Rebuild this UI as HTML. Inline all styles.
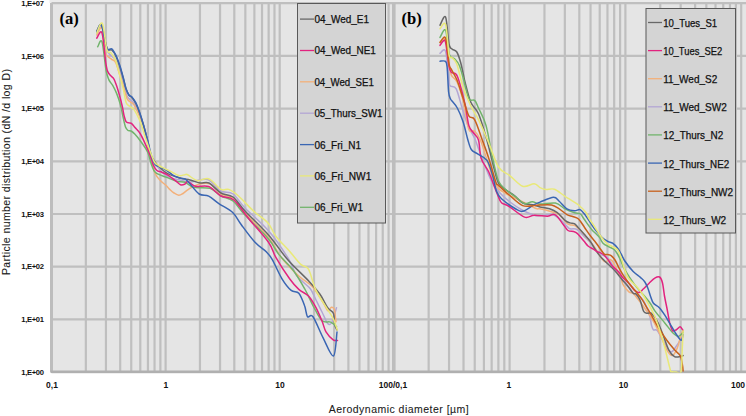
<!DOCTYPE html>
<html><head><meta charset="utf-8"><style>
html,body{margin:0;padding:0;background:#fff;}
body{width:746px;height:416px;overflow:hidden;}
svg{display:block;}
text{font-family:"Liberation Sans",sans-serif;}
.lg{font-size:10.5px;fill:#111;stroke:#111;stroke-width:0.25px;}
.yl{font-size:7.6px;fill:#111;font-weight:bold;}
.xl{font-size:8.5px;fill:#111;font-weight:bold;}
.tl{font-family:"Liberation Serif",serif;font-weight:bold;font-size:16.6px;fill:#000;}
.at{font-size:10.5px;fill:#1a1a1a;stroke:#1a1a1a;stroke-width:0.08px;}
</style></head><body>
<svg width="746" height="416" viewBox="0 0 746 416">
<rect x="49.5" y="0" width="746" height="3" fill="#ebebeb"/>
<rect x="51.5" y="2.9" width="699.5" height="368.90000000000003" fill="#e5e5e5"/>
<path d="M51.50 2.9V371.8M85.85 2.9V371.8M105.94 2.9V371.8M120.20 2.9V371.8M131.25 2.9V371.8M140.29 2.9V371.8M147.93 2.9V371.8M154.54 2.9V371.8M160.38 2.9V371.8M165.60 2.9V371.8M199.95 2.9V371.8M220.04 2.9V371.8M234.30 2.9V371.8M245.35 2.9V371.8M254.39 2.9V371.8M262.03 2.9V371.8M268.64 2.9V371.8M274.48 2.9V371.8M279.70 2.9V371.8M314.05 2.9V371.8M334.14 2.9V371.8M348.40 2.9V371.8M359.45 2.9V371.8M368.49 2.9V371.8M376.13 2.9V371.8M382.74 2.9V371.8M388.58 2.9V371.8M393.80 2.9V371.8M428.66 2.9V371.8M449.05 2.9V371.8M463.52 2.9V371.8M474.74 2.9V371.8M483.91 2.9V371.8M491.66 2.9V371.8M498.38 2.9V371.8M504.30 2.9V371.8M509.60 2.9V371.8M544.46 2.9V371.8M564.85 2.9V371.8M579.32 2.9V371.8M590.54 2.9V371.8M599.71 2.9V371.8M607.46 2.9V371.8M614.18 2.9V371.8M620.10 2.9V371.8M625.40 2.9V371.8M660.26 2.9V371.8M680.65 2.9V371.8M695.12 2.9V371.8M706.34 2.9V371.8M715.51 2.9V371.8M723.26 2.9V371.8M729.98 2.9V371.8M735.90 2.9V371.8M741.20 2.9V371.8M51.5 3.20H751M51.5 55.90H751M51.5 108.60H751M51.5 161.30H751M51.5 214.00H751M51.5 266.70H751M51.5 319.40H751M51.5 372.10H751" stroke="#bfbfbf" stroke-width="2.2" fill="none"/>
<path d="M393.8 2.9V371.8" stroke="#bdbdbd" stroke-width="3.6" fill="none"/>
<path d="M51.5 2.9V371.8" stroke="#bdbdbd" stroke-width="3" fill="none"/>
<path d="M50.5 371.8H751" stroke="#b0b0b0" stroke-width="2.6" fill="none"/>
<clipPath id="pc"><rect x="51.5" y="0" width="746" height="372.5"/></clipPath><g clip-path="url(#pc)">
<path d="M96.8 33.0 C97.7 31.8 100.3 23.2 102.0 26.0 C103.7 28.8 105.3 45.0 106.9 50.0 C108.5 55.0 110.2 54.3 111.7 56.0 C113.2 57.7 114.3 57.7 115.6 60.0 C116.9 62.3 118.0 65.7 119.4 70.0 C120.8 74.3 122.7 81.7 124.0 86.0 C125.3 90.3 126.1 93.8 127.1 96.0 C128.1 98.2 128.9 98.3 130.0 99.5 C131.1 100.7 132.4 100.8 133.8 103.0 C135.2 105.2 137.1 109.3 138.7 113.0 C140.3 116.7 142.0 120.5 143.5 125.0 C145.0 129.5 146.2 134.7 147.6 140.0 C149.0 145.3 148.9 151.2 151.8 157.0 C154.7 162.8 160.3 171.2 165.0 175.0 C169.7 178.8 175.8 178.8 180.0 180.0 C184.2 181.2 186.7 182.0 190.0 182.0 C193.3 182.0 196.8 180.3 200.0 180.0 C203.2 179.7 205.5 178.2 209.0 180.0 C212.5 181.8 217.0 188.7 221.0 191.0 C225.0 193.3 229.0 191.2 233.0 194.0 C237.0 196.8 239.1 201.9 245.0 208.0 C250.9 214.1 261.3 222.5 268.5 230.8 C275.7 239.1 283.4 250.7 288.0 258.0 C292.6 265.3 293.5 270.6 296.0 274.6 C298.5 278.6 300.6 279.6 303.0 282.0 C305.4 284.4 308.3 286.0 310.5 289.0 C312.7 292.0 314.1 296.2 316.0 300.0 C317.9 303.8 320.0 308.1 322.0 312.0 C324.0 315.9 326.1 321.9 327.8 323.6 C329.5 325.3 330.6 324.6 332.0 322.0 C333.4 319.4 335.8 310.1 336.5 307.7" stroke="#b3a6d4" stroke-width="1.5" fill="none" stroke-linejoin="round" stroke-linecap="round"/>
<path d="M96.8 35.0 C97.7 33.8 100.6 25.2 102.0 28.0 C103.4 30.8 104.0 47.0 105.0 51.7 C106.0 56.5 106.8 55.2 107.9 56.5 C109.0 57.8 110.4 58.4 111.7 59.4 C113.0 60.4 114.3 59.9 115.6 62.3 C116.9 64.7 118.0 69.3 119.4 73.8 C120.8 78.3 122.9 85.0 124.2 89.2 C125.5 93.4 126.1 96.7 127.1 98.8 C128.1 100.9 128.9 100.7 130.0 101.7 C131.1 102.7 132.4 102.5 133.8 104.6 C135.2 106.7 137.1 110.8 138.7 114.2 C140.3 117.6 142.1 120.7 143.5 125.0 C144.9 129.3 145.9 135.0 147.0 140.0 C148.1 145.0 149.1 150.8 150.0 155.0 C150.9 159.2 151.8 162.3 152.7 165.5 C153.6 168.7 153.9 171.4 155.2 173.9 C156.5 176.4 158.6 178.8 160.3 180.6 C162.0 182.4 163.6 183.2 165.3 184.8 C167.0 186.4 169.0 188.6 170.4 190.0 C171.8 191.4 172.6 192.1 174.0 193.0 C175.4 193.9 177.3 195.2 178.8 195.3 C180.3 195.4 181.4 194.5 183.0 193.5 C184.6 192.5 186.0 190.8 188.5 189.3 C191.0 187.8 194.4 185.4 198.0 184.5 C201.6 183.6 206.2 182.4 210.0 184.0 C213.8 185.6 217.2 191.7 221.0 194.0 C224.8 196.3 228.9 195.0 232.7 198.0 C236.5 201.0 238.0 205.4 244.0 212.0 C250.0 218.6 262.2 229.9 268.5 237.5 C274.8 245.1 276.4 251.3 281.5 257.7 C286.6 264.1 293.7 271.2 298.8 276.0 C303.9 280.8 308.1 281.9 312.3 286.5 C316.5 291.1 321.2 299.8 323.8 303.8 C326.4 307.8 326.4 310.0 327.7 310.6 C329.0 311.2 330.4 307.5 331.5 307.3 C332.6 307.1 333.8 307.9 334.4 309.6 C335.0 311.3 335.1 315.3 335.4 317.3 C335.7 319.3 335.9 321.0 336.0 321.7" stroke="#f3b07a" stroke-width="1.5" fill="none" stroke-linejoin="round" stroke-linecap="round"/>
<path d="M96.8 31.0 C97.6 30.0 99.8 22.2 101.5 25.0 C103.2 27.8 105.2 43.8 106.9 48.0 C108.6 52.2 110.2 48.8 111.7 50.0 C113.2 51.2 114.3 52.9 115.6 55.5 C116.9 58.1 118.1 61.7 119.4 65.5 C120.7 69.3 122.2 74.5 123.3 78.5 C124.4 82.5 125.2 86.5 126.2 89.3 C127.2 92.1 128.1 93.9 129.0 95.3 C129.9 96.7 130.8 96.1 131.9 97.5 C133.0 98.9 134.5 100.9 135.8 103.5 C137.1 106.1 138.3 109.3 139.6 113.0 C140.9 116.7 142.2 120.9 143.5 125.5 C144.8 130.1 146.2 135.2 147.6 140.5 C149.0 145.8 148.9 151.8 151.8 157.0 C154.7 162.2 160.3 168.5 165.0 172.0 C169.7 175.5 175.8 176.7 180.0 178.0 C184.2 179.3 186.7 179.2 190.0 180.0 C193.3 180.8 196.8 182.5 200.0 183.0 C203.2 183.5 205.5 181.3 209.0 183.0 C212.5 184.7 217.0 190.7 221.0 193.0 C225.0 195.3 229.0 194.0 233.0 197.0 C237.0 200.0 239.1 204.7 245.0 211.0 C250.9 217.3 261.3 226.8 268.5 235.0 C275.7 243.2 281.3 252.4 288.0 260.0 C294.7 267.6 303.2 275.1 308.5 280.8 C313.8 286.5 316.8 289.7 320.0 294.2 C323.2 298.7 325.4 304.5 327.7 307.7 C329.9 310.9 332.4 310.7 333.5 313.5 C334.6 316.3 334.0 321.9 334.6 324.6 C335.2 327.4 336.6 329.1 337.0 330.0" stroke="#686868" stroke-width="1.5" fill="none" stroke-linejoin="round" stroke-linecap="round"/>
<path d="M97.7 46.7 C98.4 45.9 100.6 37.8 102.0 41.7 C103.4 45.6 104.9 63.7 106.0 70.0 C107.1 76.3 107.7 77.0 108.8 79.6 C109.9 82.2 111.4 83.2 112.7 85.4 C114.0 87.7 115.2 89.9 116.5 93.1 C117.8 96.3 119.3 100.4 120.4 104.6 C121.5 108.8 122.5 114.4 123.3 118.1 C124.1 121.8 124.7 124.9 125.5 127.0 C126.3 129.1 127.1 129.8 128.0 130.5 C128.9 131.2 129.8 130.4 131.0 131.0 C132.2 131.6 133.2 132.4 135.0 134.3 C136.8 136.2 139.6 139.8 141.7 142.7 C143.8 145.6 145.9 148.2 147.6 152.0 C149.3 155.8 150.5 162.1 151.8 165.5 C153.1 168.9 153.5 170.5 155.2 172.2 C156.9 173.9 159.7 174.6 161.9 175.6 C164.2 176.6 166.2 177.1 168.7 178.1 C171.2 179.1 174.4 180.7 177.1 181.4 C179.8 182.1 182.3 181.3 185.0 182.3 C187.7 183.3 189.3 186.3 193.5 187.3 C197.7 188.3 205.4 186.9 210.0 188.3 C214.6 189.8 217.2 193.9 221.0 196.0 C224.8 198.1 229.0 197.8 233.0 201.0 C237.0 204.2 239.1 208.7 245.0 215.0 C250.9 221.3 262.9 232.4 268.5 239.0 C274.1 245.6 274.7 249.2 278.8 254.4 C282.9 259.6 288.9 264.5 293.2 270.3 C297.5 276.1 301.4 283.0 304.8 289.0 C308.2 295.0 310.5 301.0 313.4 306.3 C316.3 311.6 319.1 318.1 322.0 320.7 C324.9 323.3 328.3 321.1 330.7 322.1 C333.1 323.1 335.5 325.8 336.5 326.5" stroke="#72b46c" stroke-width="1.5" fill="none" stroke-linejoin="round" stroke-linecap="round"/>
<path d="M96.8 38.1 C97.7 37.2 100.5 28.6 102.0 33.0 C103.5 37.4 105.0 57.7 106.0 64.2 C107.0 70.7 107.1 70.0 107.9 71.9 C108.7 73.8 109.8 74.7 110.8 75.8 C111.8 76.9 112.8 77.1 113.7 78.7 C114.7 80.3 115.5 82.7 116.5 85.4 C117.5 88.1 118.4 91.5 119.4 95.0 C120.4 98.5 121.5 103.0 122.3 106.5 C123.1 110.0 123.5 113.6 124.2 116.2 C124.9 118.8 125.4 120.8 126.2 121.9 C127.0 123.0 128.1 122.6 129.0 122.9 C129.9 123.2 130.9 123.0 131.9 123.8 C132.9 124.6 133.6 126.0 135.0 127.6 C136.4 129.2 138.4 130.8 140.1 133.5 C141.8 136.2 143.4 139.9 145.1 143.6 C146.8 147.2 148.8 151.8 150.2 155.4 C151.6 159.1 152.4 163.0 153.5 165.5 C154.6 168.0 155.5 169.4 156.9 170.5 C158.3 171.6 159.9 171.3 161.9 172.2 C163.9 173.0 166.4 174.2 168.7 175.6 C170.9 177.0 173.4 179.1 175.4 180.6 C177.4 182.1 178.9 184.2 180.5 184.8 C182.1 185.4 183.8 184.6 185.0 184.0 C186.2 183.4 186.0 181.1 187.7 181.5 C189.4 181.9 191.9 185.5 195.4 186.3 C198.9 187.1 204.4 184.9 208.7 186.5 C213.0 188.1 216.8 193.8 221.0 196.0 C225.2 198.2 229.1 196.1 233.8 200.0 C238.5 203.9 243.4 212.1 249.2 219.2 C255.0 226.2 264.0 235.9 268.5 242.3 C273.0 248.7 272.5 251.6 276.0 257.7 C279.5 263.8 285.8 273.5 289.6 278.8 C293.4 284.1 295.7 286.5 298.8 289.4 C301.9 292.3 305.6 292.9 308.5 296.0 C311.4 299.1 313.8 303.5 316.0 307.7 C318.2 311.9 320.3 317.0 322.0 321.0 C323.7 325.0 324.1 328.7 326.0 331.8 C327.9 334.9 331.3 338.4 333.2 339.8 C335.1 341.2 336.8 340.4 337.5 340.5" stroke="#e2237f" stroke-width="1.5" fill="none" stroke-linejoin="round" stroke-linecap="round"/>
<path d="M96.8 32.0 C97.6 30.8 99.8 22.4 101.5 25.0 C103.2 27.6 105.2 43.9 106.9 47.9 C108.6 51.9 110.2 47.7 111.7 48.8 C113.2 49.9 114.3 52.0 115.6 54.6 C116.9 57.2 118.1 60.4 119.4 64.2 C120.7 68.0 122.2 73.5 123.3 77.7 C124.4 81.9 125.2 86.3 126.2 89.2 C127.2 92.1 128.1 93.7 129.0 95.0 C129.9 96.3 130.8 95.6 131.9 96.9 C133.0 98.2 134.5 100.1 135.8 102.7 C137.1 105.3 138.3 108.6 139.6 112.3 C140.9 116.0 142.2 120.3 143.5 125.0 C144.8 129.7 146.2 134.9 147.6 140.2 C149.0 145.5 150.5 152.9 151.8 157.0 C153.1 161.1 153.8 162.9 155.2 164.6 C156.6 166.3 158.3 166.1 160.3 167.1 C162.3 168.1 164.8 169.1 167.0 170.5 C169.2 171.9 171.4 174.3 173.7 175.6 C175.9 176.9 178.6 177.5 180.5 178.1 C182.4 178.7 183.5 178.0 185.0 178.9 C186.5 179.8 187.2 181.0 189.6 183.5 C192.0 186.0 196.0 191.9 199.2 194.0 C202.4 196.1 205.4 194.6 208.7 196.2 C212.0 197.8 215.2 201.1 219.2 203.8 C223.2 206.5 229.0 209.0 232.7 212.5 C236.4 216.0 237.8 220.0 241.5 225.0 C245.2 230.0 250.8 237.8 255.0 242.3 C259.2 246.8 263.6 249.1 266.5 252.0 C269.4 254.9 269.7 255.1 272.3 259.6 C274.9 264.1 278.9 273.7 282.0 278.8 C285.1 283.9 288.4 288.0 291.2 290.4 C294.0 292.8 296.6 290.7 298.8 293.3 C301.0 295.9 303.2 301.9 304.6 305.8 C306.1 309.7 306.1 314.9 307.5 316.7 C308.9 318.5 310.4 313.2 313.0 316.7 C315.6 320.2 319.6 331.1 323.0 337.6 C326.4 344.2 331.1 356.9 333.4 356.0 C335.7 355.1 336.4 336.0 337.0 332.0" stroke="#3a66b3" stroke-width="1.5" fill="none" stroke-linejoin="round" stroke-linecap="round"/>
<path d="M96.8 33.0 C97.7 31.4 100.6 20.6 102.3 23.4 C104.0 26.2 105.5 44.9 106.9 49.8 C108.3 54.7 109.3 50.9 110.8 52.7 C112.2 54.5 114.2 56.9 115.6 60.4 C117.0 63.9 118.1 69.0 119.4 73.8 C120.7 78.6 122.2 84.4 123.3 89.2 C124.4 94.0 125.1 99.8 126.2 102.7 C127.3 105.6 128.7 105.4 130.0 106.5 C131.3 107.6 132.5 107.8 133.8 109.4 C135.1 111.0 136.4 113.6 137.7 116.2 C139.0 118.8 140.3 121.6 141.5 125.0 C142.7 128.4 143.5 132.0 145.1 136.8 C146.7 141.6 149.4 149.5 151.0 153.7 C152.6 157.9 153.1 160.1 154.4 162.1 C155.7 164.1 156.8 164.4 158.6 165.5 C160.4 166.6 163.1 167.7 165.3 168.8 C167.5 169.9 169.8 171.1 172.0 172.2 C174.2 173.3 176.6 175.2 178.8 175.6 C181.0 176.0 183.5 174.8 185.0 174.7 C186.5 174.6 185.6 173.8 187.7 174.8 C189.8 175.8 193.8 179.9 197.3 180.6 C200.8 181.3 204.8 177.3 208.7 178.8 C212.6 180.3 217.7 187.6 221.0 189.4 C224.3 191.2 225.9 188.3 228.8 189.4 C231.7 190.5 234.4 192.4 238.5 196.0 C242.6 199.6 248.6 206.5 253.5 211.0 C258.4 215.5 264.2 218.8 268.0 223.0 C271.8 227.2 272.4 231.8 276.0 236.5 C279.6 241.2 285.3 246.3 289.4 251.0 C293.5 255.7 297.6 261.4 300.8 264.4 C304.0 267.4 306.0 264.9 308.5 269.2 C311.0 273.5 312.8 283.7 316.0 290.4 C319.2 297.1 324.8 304.8 327.7 309.6 C330.6 314.4 331.9 315.8 333.5 319.2 C335.1 322.6 336.7 328.2 337.3 330.0" stroke="#e9e978" stroke-width="1.5" fill="none" stroke-linejoin="round" stroke-linecap="round"/>
<path d="M440.0 53.3 C440.9 53.0 444.1 46.9 445.6 51.5 C447.1 56.1 448.2 75.2 449.0 81.0 C449.8 86.8 449.2 84.7 450.4 86.0 C451.6 87.3 454.3 85.3 456.2 88.9 C458.1 92.5 460.1 101.6 462.0 107.6 C463.9 113.6 465.6 119.8 467.7 124.9 C469.8 130.0 472.6 133.8 474.5 138.0 C476.4 142.2 477.2 145.3 479.0 150.0 C480.8 154.7 482.8 160.7 485.0 166.0 C487.2 171.3 489.5 177.5 492.0 182.0 C494.5 186.5 497.0 189.7 500.0 193.0 C503.0 196.3 506.3 199.2 510.0 202.0 C513.7 204.8 518.0 207.8 522.0 210.0 C526.0 212.2 531.2 214.3 534.2 215.2 C537.2 216.1 537.1 215.7 540.0 215.6 C542.9 215.5 548.3 214.1 551.5 214.6 C554.7 215.1 556.6 216.6 559.2 218.5 C561.8 220.4 565.1 224.5 566.9 226.2 C568.7 227.9 568.5 228.2 570.0 228.7 C571.5 229.2 574.2 228.5 575.8 229.0 C577.4 229.5 578.0 230.2 579.4 231.5 C580.8 232.8 582.7 234.9 584.4 236.6 C586.1 238.3 587.1 238.8 589.5 241.6 C591.9 244.4 595.9 250.6 598.9 253.3 C601.9 256.0 604.9 255.2 607.5 257.6 C610.1 260.1 612.0 264.4 614.4 268.0 C616.8 271.6 619.2 275.6 621.6 278.9 C624.0 282.1 627.0 285.1 628.9 287.5 C630.8 289.9 631.8 292.1 633.2 293.3 C634.6 294.6 635.8 293.8 637.5 295.0 C639.2 296.2 641.3 297.1 643.3 300.5 C645.3 303.9 648.1 311.1 649.5 315.2 C650.9 319.2 650.8 322.4 651.4 324.8 C652.0 327.2 652.3 328.7 653.3 329.7 C654.3 330.7 655.6 328.9 657.2 330.6 C658.8 332.4 660.7 336.7 662.9 340.2 C665.1 343.7 668.4 350.8 670.6 351.8 C672.9 352.8 674.6 348.2 676.4 346.0 C678.2 343.8 680.4 339.6 681.2 338.3" stroke="#b3a6d4" stroke-width="1.5" fill="none" stroke-linejoin="round" stroke-linecap="round"/>
<path d="M440.0 42.0 C440.9 41.7 444.1 36.2 445.6 40.0 C447.1 43.8 448.0 59.1 449.0 65.0 C450.0 70.9 450.2 72.6 451.5 75.4 C452.8 78.2 455.1 77.9 457.0 82.0 C458.9 86.1 461.0 92.1 463.0 100.0 C465.0 107.9 466.9 124.0 468.8 129.2 C470.7 134.4 472.7 129.2 474.6 131.0 C476.5 132.8 478.3 135.2 480.4 140.0 C482.5 144.8 484.9 153.7 487.0 160.0 C489.1 166.3 491.2 173.3 493.0 178.0 C494.8 182.7 496.0 185.5 498.0 188.0 C500.0 190.5 502.2 191.3 505.0 193.0 C507.8 194.7 511.7 196.3 515.0 198.0 C518.3 199.7 521.5 201.2 525.0 203.0 C528.5 204.8 533.5 207.5 536.0 208.5 C538.5 209.5 537.4 208.3 540.0 208.8 C542.6 209.3 548.3 210.7 551.5 211.7 C554.7 212.7 556.6 212.7 559.2 214.6 C561.8 216.5 565.1 221.6 566.9 223.3 C568.7 225.0 568.8 224.3 570.0 224.7 C571.2 225.0 573.0 224.9 574.3 225.4 C575.6 225.9 576.6 226.8 577.9 227.9 C579.2 229.1 580.8 230.7 582.3 232.3 C583.8 233.9 585.2 235.6 586.6 237.3 C588.0 239.0 589.7 241.0 590.9 242.4 C592.1 243.8 592.8 244.6 593.8 246.0 C594.8 247.4 595.7 248.9 597.0 251.0 C598.3 253.1 600.4 257.0 601.8 258.8 C603.2 260.6 604.4 261.6 605.4 261.9 C606.4 262.2 607.0 261.0 607.8 260.6 C608.6 260.2 609.4 259.3 610.2 259.4 C611.0 259.5 611.8 260.2 612.6 261.3 C613.4 262.4 614.0 264.0 615.0 266.0 C616.0 268.0 617.7 271.3 618.7 273.3 C619.7 275.3 620.4 276.2 621.1 278.1 C621.8 280.0 621.8 282.3 623.1 284.6 C624.4 286.9 627.2 290.4 628.9 291.8 C630.6 293.2 631.7 292.1 633.2 293.3 C634.7 294.5 635.8 296.3 637.9 299.0 C640.0 301.7 643.0 305.8 645.6 309.5 C648.2 313.2 650.7 316.5 653.3 321.0 C655.9 325.5 658.8 331.6 661.0 336.4 C663.2 341.2 664.9 346.6 666.8 349.8 C668.7 353.0 670.8 355.9 672.5 355.6 C674.2 355.3 675.8 351.4 677.3 347.9 C678.8 344.4 680.2 337.4 681.2 334.5 C682.2 331.6 682.8 331.2 683.1 330.6" stroke="#f3b07a" stroke-width="1.5" fill="none" stroke-linejoin="round" stroke-linecap="round"/>
<path d="M440.0 25.2 C440.9 23.9 444.1 14.1 445.6 17.2 C447.1 20.3 447.9 38.7 449.0 44.0 C450.1 49.3 450.7 47.7 452.0 49.0 C453.3 50.3 455.4 49.8 456.8 52.0 C458.2 54.2 459.4 58.2 460.5 62.0 C461.6 65.8 462.8 71.7 463.5 75.0 C464.2 78.3 463.8 77.5 465.0 82.0 C466.2 86.5 468.6 97.0 470.8 102.3 C473.1 107.6 476.0 108.0 478.5 113.8 C481.0 119.6 484.1 130.6 486.0 137.0 C487.9 143.4 488.5 146.2 490.0 152.0 C491.5 157.8 493.6 166.8 495.0 172.0 C496.4 177.2 496.7 180.0 498.5 183.0 C500.3 186.0 503.2 187.8 506.0 190.0 C508.8 192.2 512.2 193.8 515.0 196.0 C517.8 198.2 519.5 201.5 522.7 203.0 C525.9 204.5 531.1 204.3 534.0 205.0 C536.9 205.7 537.4 206.3 540.0 206.9 C542.6 207.5 546.7 207.8 549.6 208.8 C552.5 209.8 554.7 210.8 557.3 212.7 C559.9 214.6 562.9 218.7 565.0 220.4 C567.1 222.1 568.5 222.4 570.0 222.9 C571.5 223.4 573.0 222.9 574.3 223.6 C575.6 224.3 576.3 225.5 577.9 227.2 C579.5 228.9 582.0 231.7 584.0 234.0 C586.0 236.3 587.3 237.3 590.0 241.0 C592.7 244.7 595.9 251.1 600.0 256.0 C604.1 260.9 610.8 266.4 614.4 270.2 C618.0 274.0 619.2 276.0 621.6 278.9 C624.0 281.8 627.0 285.1 628.9 287.5 C630.8 289.9 632.0 292.2 633.2 293.3 C634.4 294.4 634.9 292.9 636.0 294.0 C637.1 295.1 638.7 297.1 640.0 300.0 C641.3 302.9 642.5 309.2 643.7 311.4 C645.0 313.6 646.2 313.0 647.5 313.3 C648.8 313.6 649.8 312.0 651.4 313.3 C653.0 314.6 655.3 317.5 657.2 321.0 C659.1 324.5 661.0 329.7 662.9 334.5 C664.8 339.3 666.8 346.1 668.7 349.8 C670.6 353.5 672.6 355.5 674.5 356.6 C676.4 357.7 678.8 356.8 680.2 356.6 C681.6 356.4 682.6 355.8 683.1 355.6" stroke="#686868" stroke-width="1.5" fill="none" stroke-linejoin="round" stroke-linecap="round"/>
<path d="M440.0 37.4 C440.9 36.2 444.1 27.4 445.6 30.2 C447.1 33.0 447.5 49.2 449.0 54.0 C450.5 58.8 453.1 57.2 454.8 59.0 C456.5 60.8 457.6 61.8 459.0 64.8 C460.4 67.8 461.4 71.7 463.0 77.3 C464.6 82.9 466.9 94.7 468.8 98.5 C470.7 102.3 473.0 98.8 474.6 100.4 C476.2 102.0 476.6 103.8 478.5 108.0 C480.4 112.2 483.6 117.0 486.0 125.4 C488.4 133.8 490.6 149.2 492.7 158.5 C494.8 167.8 496.4 175.9 498.5 181.0 C500.6 186.1 502.5 186.5 505.4 189.2 C508.3 191.9 512.6 194.6 515.8 197.0 C519.0 199.4 521.9 202.9 524.6 203.7 C527.4 204.5 529.7 201.6 532.3 201.7 C534.9 201.8 536.1 203.8 540.0 204.0 C543.9 204.2 551.2 202.3 555.4 203.1 C559.6 203.9 561.8 207.2 565.0 208.8 C568.2 210.4 572.0 211.8 574.6 212.7 C577.2 213.6 578.8 212.9 580.4 214.0 C582.0 215.1 582.1 216.4 584.0 219.0 C585.9 221.6 589.1 226.5 591.6 229.4 C594.1 232.3 596.9 234.3 598.8 236.6 C600.7 238.9 601.3 241.5 603.0 243.2 C604.7 244.9 607.2 245.8 609.0 246.8 C610.8 247.8 612.4 248.0 613.8 249.2 C615.2 250.4 616.3 252.0 617.5 254.0 C618.7 256.0 619.9 258.7 621.1 261.3 C622.3 263.9 622.5 265.8 624.7 269.7 C627.0 273.6 631.5 280.4 634.6 284.6 C637.7 288.8 640.9 291.9 643.5 295.0 C646.1 298.1 648.0 300.3 650.0 303.0 C652.0 305.7 652.7 308.1 655.2 311.4 C657.7 314.7 661.9 319.4 664.8 322.9 C667.7 326.4 670.2 330.2 672.5 332.5 C674.8 334.8 676.5 336.4 678.3 336.4 C680.1 336.4 682.3 333.1 683.1 332.5" stroke="#72b46c" stroke-width="1.5" fill="none" stroke-linejoin="round" stroke-linecap="round"/>
<path d="M440.0 45.4 C440.5 44.7 442.3 41.5 443.2 41.0 C444.1 40.5 444.6 38.3 445.6 42.5 C446.6 46.7 448.0 61.0 449.0 66.0 C450.0 71.0 450.1 70.8 451.5 72.5 C452.9 74.2 455.1 71.0 457.3 76.3 C459.6 81.6 463.1 96.0 465.0 104.2 C466.9 112.4 467.4 120.6 468.8 125.4 C470.2 130.2 472.0 130.6 473.6 133.0 C475.2 135.4 477.2 135.8 478.5 140.0 C479.8 144.2 479.5 153.2 481.2 158.5 C482.9 163.8 486.6 167.2 488.8 172.0 C491.0 176.8 493.0 183.1 494.6 187.3 C496.2 191.5 497.4 194.4 498.5 197.0 C499.6 199.6 499.7 201.1 501.5 202.7 C503.3 204.3 505.3 204.1 509.2 206.5 C513.0 208.9 520.4 215.7 524.6 217.1 C528.8 218.5 530.4 215.3 534.2 215.2 C538.1 215.0 544.5 216.4 547.7 216.2 C550.9 216.0 551.9 214.1 553.5 214.2 C555.1 214.2 555.7 214.8 557.3 216.5 C558.9 218.2 561.3 221.9 563.1 224.2 C564.9 226.5 566.2 229.3 568.0 230.5 C569.8 231.7 572.1 231.0 573.6 231.5 C575.1 232.0 576.0 232.3 577.2 233.3 C578.4 234.3 579.6 235.9 580.8 237.3 C582.0 238.7 583.2 240.2 584.4 241.6 C585.6 243.0 586.5 244.7 588.0 246.0 C589.5 247.3 591.9 248.3 593.4 249.2 C594.9 250.1 595.8 251.0 597.0 251.6 C598.2 252.2 599.4 252.2 600.6 252.8 C601.8 253.4 603.0 254.1 604.2 255.2 C605.4 256.3 606.6 257.8 607.8 259.4 C609.0 261.0 610.2 263.4 611.4 264.9 C612.6 266.4 613.8 267.3 615.0 268.5 C616.2 269.7 617.5 270.7 618.7 272.1 C619.9 273.5 620.6 275.0 622.3 276.9 C624.0 278.8 626.8 280.9 628.9 283.2 C631.0 285.4 632.9 288.8 634.6 290.4 C636.3 292.0 637.5 292.8 639.0 292.6 C640.5 292.4 641.6 290.6 643.3 289.0 C645.0 287.4 647.2 285.0 649.1 283.2 C651.0 281.4 653.1 279.1 654.8 278.1 C656.5 277.1 658.2 276.2 659.5 277.0 C660.8 277.8 661.7 279.8 662.5 283.0 C663.3 286.2 663.8 291.9 664.5 296.0 C665.2 300.1 665.9 303.0 666.8 307.5 C667.7 312.0 668.8 319.0 669.7 322.9 C670.7 326.8 671.4 329.5 672.5 330.6 C673.6 331.7 675.1 330.3 676.4 329.7 C677.7 329.1 679.1 326.6 680.2 326.8 C681.3 327.0 682.6 330.0 683.1 330.6" stroke="#e2237f" stroke-width="1.5" fill="none" stroke-linejoin="round" stroke-linecap="round"/>
<path d="M440.0 61.2 C440.9 61.2 444.4 60.3 445.6 61.4 C446.8 62.5 446.7 62.9 447.2 68.0 C447.7 73.1 448.1 86.8 448.6 92.0 C449.2 97.2 450.0 97.6 450.5 99.0 C451.0 100.4 450.4 98.9 451.5 100.4 C452.6 101.9 455.4 104.5 457.3 108.0 C459.2 111.5 461.2 116.2 463.0 121.5 C464.8 126.8 466.5 135.3 467.9 140.0 C469.3 144.7 469.9 147.5 471.5 149.8 C473.1 152.1 474.7 151.9 477.3 153.7 C479.9 155.5 484.4 156.7 487.0 160.4 C489.6 164.1 491.1 170.7 492.7 175.8 C494.3 180.9 495.0 187.4 496.5 191.2 C498.0 195.0 498.4 195.9 501.5 198.8 C504.6 201.7 511.5 206.4 515.0 208.5 C518.5 210.6 519.5 212.0 522.7 211.3 C525.9 210.7 531.3 206.1 534.2 204.6 C537.1 203.1 536.8 203.3 540.0 202.1 C543.2 200.9 550.3 197.5 553.5 197.3 C556.7 197.2 557.0 199.3 559.2 201.2 C561.4 203.1 564.3 207.2 566.9 208.8 C569.5 210.4 572.4 210.6 574.6 210.8 C576.9 211.0 578.4 208.8 580.4 209.8 C582.4 210.8 584.4 214.0 586.6 217.0 C588.8 220.0 591.8 225.1 593.8 227.9 C595.8 230.7 597.5 232.1 598.8 233.7 C600.1 235.2 600.3 235.9 601.8 237.2 C603.3 238.5 606.0 240.4 607.8 241.4 C609.6 242.4 611.0 242.1 612.6 243.2 C614.2 244.3 616.1 246.2 617.5 248.0 C618.9 249.8 619.9 251.8 621.1 254.0 C622.4 256.2 623.0 258.4 625.0 261.3 C627.0 264.2 630.6 268.9 633.2 271.6 C635.8 274.3 638.5 275.7 640.4 277.4 C642.3 279.1 643.5 280.0 644.7 281.7 C645.9 283.4 646.6 285.1 647.6 287.5 C648.6 289.9 649.5 293.6 650.5 296.2 C651.5 298.8 651.9 301.1 653.3 303.0 C654.7 304.9 657.2 305.5 659.1 307.5 C661.0 309.5 662.9 312.3 664.8 315.2 C666.7 318.1 668.7 321.6 670.6 324.8 C672.5 328.0 674.6 331.9 676.4 334.5 C678.2 337.1 680.1 340.2 681.2 340.2 C682.3 340.2 682.8 335.4 683.1 334.5" stroke="#3a66b3" stroke-width="1.5" fill="none" stroke-linejoin="round" stroke-linecap="round"/>
<path d="M440.0 42.5 C440.9 41.8 444.1 34.5 445.6 38.1 C447.1 41.7 448.0 58.8 449.0 64.0 C450.0 69.2 450.2 66.9 451.5 69.6 C452.8 72.3 455.1 75.3 457.0 80.0 C458.9 84.7 461.0 92.0 463.0 98.0 C465.0 104.0 466.9 112.2 468.8 115.8 C470.7 119.4 472.4 115.6 474.6 119.6 C476.9 123.6 479.9 133.5 482.3 140.0 C484.7 146.5 486.6 151.5 488.8 158.5 C491.1 165.5 494.2 177.5 495.8 182.0 C497.4 186.5 496.3 183.2 498.5 185.4 C500.7 187.6 505.2 191.6 509.2 195.0 C513.2 198.4 518.5 203.8 522.7 205.6 C526.9 207.4 531.3 205.7 534.2 205.6 C537.1 205.5 537.1 205.1 540.0 205.0 C542.9 204.9 548.3 204.4 551.5 205.0 C554.7 205.6 556.6 207.2 559.2 208.8 C561.8 210.4 564.6 213.3 566.9 214.6 C569.1 215.9 570.8 215.8 572.7 216.5 C574.6 217.2 576.5 217.2 578.5 219.0 C580.5 220.8 582.5 224.5 584.4 227.2 C586.3 229.9 588.1 232.7 589.8 235.0 C591.5 237.3 593.1 239.1 594.6 241.0 C596.1 242.9 597.2 244.5 598.8 246.7 C600.4 248.9 602.7 252.7 604.2 254.0 C605.7 255.3 606.6 254.3 607.8 254.6 C609.0 254.9 610.2 254.9 611.4 255.8 C612.6 256.7 613.8 258.1 615.0 260.0 C616.2 261.9 617.3 264.7 618.7 267.3 C620.1 269.9 621.8 273.1 623.5 275.7 C625.2 278.3 626.8 280.5 628.9 283.2 C631.0 285.9 634.0 289.1 636.1 291.8 C638.2 294.5 640.1 296.7 641.8 299.1 C643.5 301.5 644.6 303.6 646.2 306.3 C647.8 309.0 649.2 311.5 651.4 315.2 C653.5 318.9 656.5 324.5 659.1 328.7 C661.7 332.9 664.2 336.7 666.8 340.2 C669.4 343.7 672.3 347.2 674.5 349.8 C676.7 352.4 678.9 353.4 680.2 355.6 C681.5 357.9 681.7 360.7 682.2 363.3 C682.7 365.9 683.0 369.7 683.1 371.0" stroke="#c7601c" stroke-width="1.5" fill="none" stroke-linejoin="round" stroke-linecap="round"/>
<path d="M440.0 28.8 C440.9 28.1 444.1 20.1 445.6 24.4 C447.1 28.7 447.9 49.2 449.0 54.7 C450.1 60.2 450.6 56.1 451.9 57.6 C453.2 59.1 454.9 59.1 456.8 64.0 C458.7 68.9 460.7 80.0 463.0 87.0 C465.3 94.0 468.2 100.6 470.8 106.0 C473.4 111.4 475.5 113.4 478.5 119.6 C481.5 125.8 485.5 135.1 488.8 143.0 C492.1 150.9 495.0 161.5 498.5 167.0 C502.0 172.5 506.0 172.6 510.0 175.8 C514.0 179.0 518.7 185.0 522.7 186.3 C526.7 187.6 531.3 183.6 534.2 183.8 C537.1 184.0 538.1 186.7 540.0 187.7 C541.9 188.7 543.4 189.3 545.8 189.6 C548.2 189.8 551.2 188.1 554.4 189.2 C557.6 190.3 561.0 193.7 565.0 196.3 C569.0 198.9 575.0 202.3 578.5 205.0 C582.0 207.7 584.5 210.5 586.2 212.7 C587.9 214.9 587.3 215.7 588.7 218.0 C590.1 220.3 592.5 223.5 594.5 226.5 C596.5 229.5 598.6 233.2 600.6 236.0 C602.6 238.8 604.6 241.4 606.6 243.2 C608.6 245.0 610.8 245.7 612.6 246.8 C614.4 247.9 616.1 248.0 617.5 249.8 C618.9 251.6 619.9 254.3 621.1 257.6 C622.3 260.9 623.4 266.1 624.7 269.7 C626.0 273.2 626.8 275.9 628.9 278.9 C631.0 281.9 635.0 284.6 637.5 287.5 C640.0 290.4 641.7 292.9 643.7 296.0 C645.7 299.1 647.6 302.5 649.5 306.0 C651.4 309.5 653.6 313.5 655.2 317.2 C656.8 320.9 657.7 324.2 659.0 328.0 C660.3 331.8 661.4 334.9 662.9 340.2 C664.4 345.4 666.4 354.4 667.7 359.5 C669.0 364.6 669.9 368.9 670.6 371.0 C671.3 373.1 671.1 371.6 672.0 371.8 C672.9 372.0 674.5 372.0 676.0 372.0 C677.5 372.0 680.0 375.5 681.0 371.8 C682.0 368.1 681.9 356.9 682.2 350.0 C682.6 343.1 683.0 333.8 683.1 330.6" stroke="#e9e978" stroke-width="1.5" fill="none" stroke-linejoin="round" stroke-linecap="round"/>
</g>
<rect x="297.5" y="3.5" width="88" height="219.5" fill="#d4d4d4" stroke="#595959" stroke-width="1"/>
<path d="M300 19.1H314" stroke="#686868" stroke-width="1.3"/>
<text x="314.4" y="23.0" class="lg" style="font-size:10px" textLength="54.6" lengthAdjust="spacingAndGlyphs">04_Wed_E1</text>
<path d="M300 50.5H314" stroke="#e2237f" stroke-width="1.3"/>
<text x="314.4" y="54.4" class="lg" style="font-size:10px" textLength="61.5" lengthAdjust="spacingAndGlyphs">04_Wed_NE1</text>
<path d="M300 81.8H314" stroke="#f3b07a" stroke-width="1.3"/>
<text x="314.4" y="85.8" class="lg" style="font-size:10px" textLength="59.4" lengthAdjust="spacingAndGlyphs">04_Wed_SE1</text>
<path d="M300 113.2H314" stroke="#b3a6d4" stroke-width="1.3"/>
<text x="314.4" y="117.1" class="lg" style="font-size:10px" textLength="68.1" lengthAdjust="spacingAndGlyphs">05_Thurs_SW1</text>
<path d="M300 144.6H314" stroke="#3a66b3" stroke-width="1.3"/>
<text x="314.4" y="148.5" class="lg" style="font-size:10px" textLength="46.7" lengthAdjust="spacingAndGlyphs">06_Fri_N1</text>
<path d="M300 175.9H314" stroke="#e9e978" stroke-width="1.3"/>
<text x="314.4" y="179.8" class="lg" style="font-size:10px" textLength="56.9" lengthAdjust="spacingAndGlyphs">06_Fri_NW1</text>
<path d="M300 207.3H314" stroke="#72b46c" stroke-width="1.3"/>
<text x="314.4" y="211.2" class="lg" style="font-size:10px" textLength="48.6" lengthAdjust="spacingAndGlyphs">06_Fri_W1</text>
<rect x="646" y="8.5" width="89.5" height="224.5" fill="#d4d4d4" stroke="#595959" stroke-width="1"/>
<path d="M648 22.5H662" stroke="#686868" stroke-width="1.3"/>
<text x="663.2" y="26.9" class="lg" style="font-size:10.2px" textLength="54" lengthAdjust="spacingAndGlyphs">10_Tues_S1</text>
<path d="M648 50.6H662" stroke="#e2237f" stroke-width="1.3"/>
<text x="663.2" y="55.0" class="lg" style="font-size:10.2px" textLength="59.1" lengthAdjust="spacingAndGlyphs">10_Tues_SE2</text>
<path d="M648 78.7H662" stroke="#f3b07a" stroke-width="1.3"/>
<text x="663.2" y="83.1" class="lg" style="font-size:10.2px" textLength="54" lengthAdjust="spacingAndGlyphs">11_Wed_S2</text>
<path d="M648 106.8H662" stroke="#b3a6d4" stroke-width="1.3"/>
<text x="663.2" y="111.2" class="lg" style="font-size:10.2px" textLength="63.6" lengthAdjust="spacingAndGlyphs">11_Wed_SW2</text>
<path d="M648 134.9H662" stroke="#72b46c" stroke-width="1.3"/>
<text x="663.2" y="139.3" class="lg" style="font-size:10.2px" textLength="60" lengthAdjust="spacingAndGlyphs">12_Thurs_N2</text>
<path d="M648 163.1H662" stroke="#3a66b3" stroke-width="1.3"/>
<text x="663.2" y="167.5" class="lg" style="font-size:10.2px" textLength="66" lengthAdjust="spacingAndGlyphs">12_Thurs_NE2</text>
<path d="M648 191.2H662" stroke="#c7601c" stroke-width="1.3"/>
<text x="663.2" y="195.6" class="lg" style="font-size:10.2px" textLength="69.9" lengthAdjust="spacingAndGlyphs">12_Thurs_NW2</text>
<path d="M648 219.3H662" stroke="#e9e978" stroke-width="1.3"/>
<text x="663.2" y="223.7" class="lg" style="font-size:10.2px" textLength="63" lengthAdjust="spacingAndGlyphs">12_Thurs_W2</text>
<text x="59.4" y="23.6" class="tl">(a)</text>
<text x="401.6" y="23.6" class="tl">(b)</text>
<text x="43.9" y="5.9" class="yl" text-anchor="end" textLength="22.6">1,E+07</text><text x="43.9" y="58.6" class="yl" text-anchor="end" textLength="22.6">1,E+06</text><text x="43.9" y="111.3" class="yl" text-anchor="end" textLength="22.6">1,E+05</text><text x="43.9" y="164.0" class="yl" text-anchor="end" textLength="22.6">1,E+04</text><text x="43.9" y="216.7" class="yl" text-anchor="end" textLength="22.6">1,E+03</text><text x="43.9" y="269.4" class="yl" text-anchor="end" textLength="22.6">1,E+02</text><text x="43.9" y="322.1" class="yl" text-anchor="end" textLength="22.6">1,E+01</text><text x="43.9" y="374.8" class="yl" text-anchor="end" textLength="22.6">1,E+00</text>
<text x="52" y="387.7" class="xl" text-anchor="middle">0,1</text><text x="165.8" y="387.7" class="xl" text-anchor="middle">1</text><text x="279.9" y="387.7" class="xl" text-anchor="middle">10</text><text x="393" y="387.7" class="xl" text-anchor="middle">100/0,1</text><text x="508.8" y="387.7" class="xl" text-anchor="middle">1</text><text x="623.5" y="387.7" class="xl" text-anchor="middle">10</text><text x="738" y="387.7" class="xl" text-anchor="middle">100</text>
<text x="328.7" y="412.5" class="at" textLength="140">Aerodynamic diameter [µm]</text>
<text transform="translate(9.8,275.1) rotate(-90)" class="at" textLength="206">Particle number distribution (dN /d log D)</text>
</svg>
</body></html>
